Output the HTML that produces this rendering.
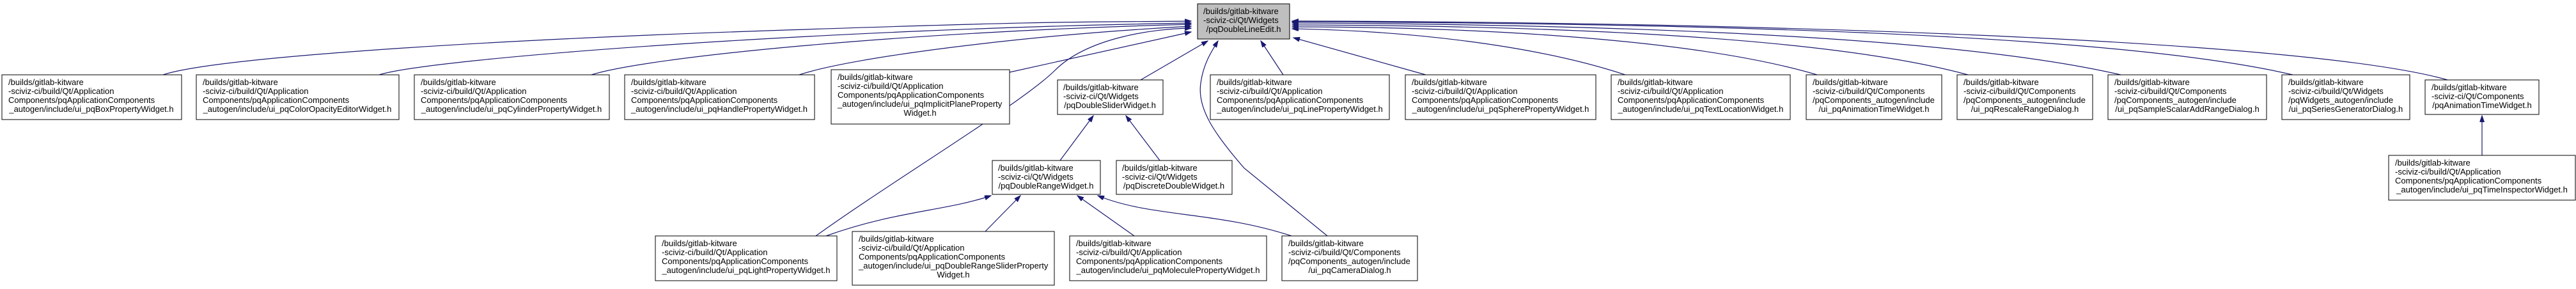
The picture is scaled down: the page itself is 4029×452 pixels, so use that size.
<!DOCTYPE html>
<html><head><meta charset="utf-8"><style>
html,body{margin:0;padding:0;background:#fff;}
svg{display:block;}
text{font-family:"Liberation Sans",Arial,sans-serif;font-size:13px;fill:#000;}
.b{fill:#fff;stroke:#000;stroke-width:1;}
.e{fill:none;stroke:#191970;stroke-width:1.2;marker-end:url(#a);}
</style></head><body>
<svg width="4029" height="452" viewBox="0 0 4029 452" xmlns="http://www.w3.org/2000/svg">
<defs><marker id="a" markerUnits="userSpaceOnUse" markerWidth="12" markerHeight="9" refX="10" refY="3.5" orient="auto"><path d="M0,0 L10,3.5 L0,7 z" fill="#191970" stroke="#191970"/></marker></defs>

<!-- edges -->
<path class="e" d="M255,117 C330,92 700,65 1200,48 S1700,35 1863,33"/>
<path class="e" d="M593,117 C680,90 1300,45 1863,36"/>
<path class="e" d="M925,117 C1010,90 1400,50 1863,38"/>
<path class="e" d="M1250,117 C1330,90 1600,55 1863,41"/>
<path class="e" d="M1579,113 L1863,50"/>
<path class="e" d="M1276,369 C1400,280 1600,160 1650,110 C1700,60 1800,45 1863,44"/>
<path class="e" d="M1784,125 L1889,64"/>
<path class="e" d="M2076,369 L1946,263 C1900,210 1872,170 1878,130 C1882,100 1895,80 1905,64"/>
<path class="e" d="M2007,117 L1972,64"/>
<path class="e" d="M2230,117 L2023,59"/>
<path class="e" d="M2542,117 C2400,70 2200,48 2021,45"/>
<path class="e" d="M2842,117 C2650,60 2300,42 2021,42"/>
<path class="e" d="M3078,117 C2850,55 2400,40 2021,39"/>
<path class="e" d="M3317,117 C3050,55 2500,38 2021,36"/>
<path class="e" d="M3586,117 C3300,50 2600,36 2021,34"/>
<path class="e" d="M3828,125 C3600,60 2700,34 2021,33"/>
<path class="e" d="M3882,243 L3882,181"/>
<path class="e" d="M1658,251 L1710,181"/>
<path class="e" d="M1814,251 L1761,181"/>
<path class="e" d="M1292,369 C1400,330 1480,330 1550,306"/>
<path class="e" d="M1541,362 L1596,306"/>
<path class="e" d="M1774,369 L1685,306"/>
<path class="e" d="M2020,369 C1900,330 1800,340 1717,306"/>

<!-- root -->
<rect x="1873" y="6" width="144" height="55" fill="#bfbfbf" stroke="#000"/>
<text x="1882" y="22">/builds/gitlab-kitware</text>
<text x="1882" y="36">-sciviz-ci/Qt/Widgets</text>
<text x="1945" y="50" text-anchor="middle">/pqDoubleLineEdit.h</text>

<!-- A -->
<rect class="b" x="3" y="117" width="281" height="70"/>
<text x="13" y="133">/builds/gitlab-kitware</text><text x="13" y="147">-sciviz-ci/build/Qt/Application</text><text x="13" y="161">Components/pqApplicationComponents</text><text x="143" y="175" text-anchor="middle">_autogen/include/ui_pqBoxPropertyWidget.h</text>
<!-- B -->
<rect class="b" x="307" y="117" width="317" height="70"/>
<text x="317" y="133">/builds/gitlab-kitware</text><text x="317" y="147">-sciviz-ci/build/Qt/Application</text><text x="317" y="161">Components/pqApplicationComponents</text><text x="465" y="175" text-anchor="middle">_autogen/include/ui_pqColorOpacityEditorWidget.h</text>
<!-- C -->
<rect class="b" x="648" y="117" width="305" height="70"/>
<text x="658" y="133">/builds/gitlab-kitware</text><text x="658" y="147">-sciviz-ci/build/Qt/Application</text><text x="658" y="161">Components/pqApplicationComponents</text><text x="800" y="175" text-anchor="middle">_autogen/include/ui_pqCylinderPropertyWidget.h</text>
<!-- D -->
<rect class="b" x="977" y="117" width="297" height="70"/>
<text x="987" y="133">/builds/gitlab-kitware</text><text x="987" y="147">-sciviz-ci/build/Qt/Application</text><text x="987" y="161">Components/pqApplicationComponents</text><text x="1125" y="175" text-anchor="middle">_autogen/include/ui_pqHandlePropertyWidget.h</text>
<!-- E -->
<rect class="b" x="1300" y="109" width="279" height="85"/>
<text x="1310" y="125">/builds/gitlab-kitware</text><text x="1310" y="139">-sciviz-ci/build/Qt/Application</text><text x="1310" y="153">Components/pqApplicationComponents</text><text x="1310" y="167">_autogen/include/ui_pqImplicitPlaneProperty</text><text x="1439" y="181" text-anchor="middle">Widget.h</text>
<!-- F -->
<rect class="b" x="1654" y="125" width="165" height="54"/>
<text x="1663" y="141">/builds/gitlab-kitware</text><text x="1663" y="155">-sciviz-ci/Qt/Widgets</text><text x="1736" y="169" text-anchor="middle">/pqDoubleSliderWidget.h</text>
<!-- G -->
<rect class="b" x="1893" y="117" width="280" height="70"/>
<text x="1903" y="133">/builds/gitlab-kitware</text><text x="1903" y="147">-sciviz-ci/build/Qt/Application</text><text x="1903" y="161">Components/pqApplicationComponents</text><text x="2033" y="175" text-anchor="middle">_autogen/include/ui_pqLinePropertyWidget.h</text>
<!-- H -->
<rect class="b" x="2198" y="117" width="298" height="70"/>
<text x="2208" y="133">/builds/gitlab-kitware</text><text x="2208" y="147">-sciviz-ci/build/Qt/Application</text><text x="2208" y="161">Components/pqApplicationComponents</text><text x="2347" y="175" text-anchor="middle">_autogen/include/ui_pqSpherePropertyWidget.h</text>
<!-- I -->
<rect class="b" x="2520" y="117" width="280" height="70"/>
<text x="2530" y="133">/builds/gitlab-kitware</text><text x="2530" y="147">-sciviz-ci/build/Qt/Application</text><text x="2530" y="161">Components/pqApplicationComponents</text><text x="2660" y="175" text-anchor="middle">_autogen/include/ui_pqTextLocationWidget.h</text>
<!-- J -->
<rect class="b" x="2825" y="117" width="212" height="70"/>
<text x="2835" y="133">/builds/gitlab-kitware</text><text x="2835" y="147">-sciviz-ci/build/Qt/Components</text><text x="2835" y="161">/pqComponents_autogen/include</text><text x="2931" y="175" text-anchor="middle">/ui_pqAnimationTimeWidget.h</text>
<!-- K -->
<rect class="b" x="3061" y="117" width="212" height="70"/>
<text x="3071" y="133">/builds/gitlab-kitware</text><text x="3071" y="147">-sciviz-ci/build/Qt/Components</text><text x="3071" y="161">/pqComponents_autogen/include</text><text x="3167" y="175" text-anchor="middle">/ui_pqRescaleRangeDialog.h</text>
<!-- L -->
<rect class="b" x="3297" y="117" width="248" height="70"/>
<text x="3307" y="133">/builds/gitlab-kitware</text><text x="3307" y="147">-sciviz-ci/build/Qt/Components</text><text x="3307" y="161">/pqComponents_autogen/include</text><text x="3421" y="175" text-anchor="middle">/ui_pqSampleScalarAddRangeDialog.h</text>
<!-- M -->
<rect class="b" x="3569" y="117" width="200" height="70"/>
<text x="3579" y="133">/builds/gitlab-kitware</text><text x="3579" y="147">-sciviz-ci/build/Qt/Widgets</text><text x="3579" y="161">/pqWidgets_autogen/include</text><text x="3669" y="175" text-anchor="middle">/ui_pqSeriesGeneratorDialog.h</text>
<!-- N -->
<rect class="b" x="3793" y="125" width="178" height="54"/>
<text x="3803" y="141">/builds/gitlab-kitware</text><text x="3803" y="155">-sciviz-ci/Qt/Components</text><text x="3882" y="169" text-anchor="middle">/pqAnimationTimeWidget.h</text>
<!-- O -->
<rect class="b" x="3736" y="243" width="292" height="70"/>
<text x="3746" y="259">/builds/gitlab-kitware</text><text x="3746" y="273">-sciviz-ci/build/Qt/Application</text><text x="3746" y="287">Components/pqApplicationComponents</text><text x="3882" y="301" text-anchor="middle">_autogen/include/ui_pqTimeInspectorWidget.h</text>
<!-- P -->
<rect class="b" x="1552" y="251" width="169" height="53"/>
<text x="1561" y="267">/builds/gitlab-kitware</text><text x="1561" y="281">-sciviz-ci/Qt/Widgets</text><text x="1636" y="295" text-anchor="middle">/pqDoubleRangeWidget.h</text>
<!-- Q -->
<rect class="b" x="1746" y="251" width="181" height="53"/>
<text x="1755" y="267">/builds/gitlab-kitware</text><text x="1755" y="281">-sciviz-ci/Qt/Widgets</text><text x="1836" y="295" text-anchor="middle">/pqDiscreteDoubleWidget.h</text>
<!-- R -->
<rect class="b" x="1025" y="369" width="284" height="70"/>
<text x="1035" y="385">/builds/gitlab-kitware</text><text x="1035" y="399">-sciviz-ci/build/Qt/Application</text><text x="1035" y="413">Components/pqApplicationComponents</text><text x="1167" y="427" text-anchor="middle">_autogen/include/ui_pqLightPropertyWidget.h</text>
<!-- S -->
<rect class="b" x="1333" y="362" width="316" height="84"/>
<text x="1343" y="378">/builds/gitlab-kitware</text><text x="1343" y="392">-sciviz-ci/build/Qt/Application</text><text x="1343" y="406">Components/pqApplicationComponents</text><text x="1343" y="420">_autogen/include/ui_pqDoubleRangeSliderProperty</text><text x="1491" y="434" text-anchor="middle">Widget.h</text>
<!-- T -->
<rect class="b" x="1673" y="369" width="308" height="70"/>
<text x="1683" y="385">/builds/gitlab-kitware</text><text x="1683" y="399">-sciviz-ci/build/Qt/Application</text><text x="1683" y="413">Components/pqApplicationComponents</text><text x="1827" y="427" text-anchor="middle">_autogen/include/ui_pqMoleculePropertyWidget.h</text>
<!-- U -->
<rect class="b" x="2005" y="369" width="212" height="70"/>
<text x="2015" y="385">/builds/gitlab-kitware</text><text x="2015" y="399">-sciviz-ci/build/Qt/Components</text><text x="2015" y="413">/pqComponents_autogen/include</text><text x="2111" y="427" text-anchor="middle">/ui_pqCameraDialog.h</text>
</svg>
</body></html>
